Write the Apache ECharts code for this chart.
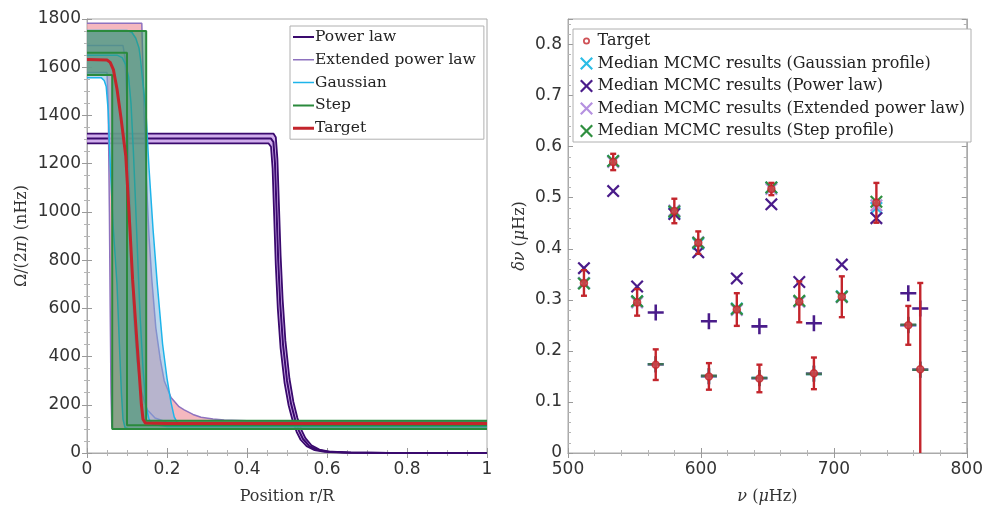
<!DOCTYPE html>
<html><head><meta charset="utf-8">
<script src="https://cdn.jsdelivr.net/npm/echarts@6/dist/echarts.min.js"></script>
<style>html,body{margin:0;padding:0;background:#fff}#c{width:986px;height:510px}</style>
</head><body><div id="c"></div>
<script>
// ===== Left panel: rotation profiles, points are [r/R, Omega/(2pi) in nHz] =====
const plMedian = [[0,1304],[0.46,1304],[0.466,1290],[0.47,1200],[0.474,1000],[0.478,800],[0.483,620],[0.49,450],[0.5,300],[0.51,205],[0.52,140],[0.53,92],[0.54,58],[0.555,30],[0.575,13],[0.6,6],[0.65,2],[0.75,0.5],[1,0]];
const plUpper  = [[0,1325],[0.466,1325],[0.472,1310],[0.476,1220],[0.48,1020],[0.484,820],[0.489,640],[0.496,465],[0.506,310],[0.516,212],[0.526,145],[0.536,96],[0.546,62],[0.561,32],[0.581,14],[0.606,6],[0.66,2],[0.76,0.5],[1,0]];
const plLower  = [[0,1284],[0.454,1284],[0.46,1270],[0.464,1180],[0.468,980],[0.472,780],[0.477,600],[0.484,435],[0.494,290],[0.504,198],[0.514,135],[0.524,88],[0.534,55],[0.549,28],[0.569,12],[0.594,5],[0.64,1.5],[0.74,0.5],[1,0]];

const extUpper  = [[0,1782],[0.137,1782],[0.139,1650],[0.143,1400],[0.148,1150],[0.155,900],[0.162,720],[0.172,520],[0.183,390],[0.193,300],[0.21,230],[0.23,192],[0.243,179],[0.265,160],[0.285,148],[0.315,141],[0.343,137],[0.4,134],[0.5,133],[1,133]];
const extMedian = [[0,1690],[0.09,1690],[0.095,1640],[0.1,1450],[0.105,1150],[0.11,850],[0.117,560],[0.125,380],[0.135,260],[0.15,180],[0.17,145],[0.2,128],[0.25,120],[0.35,117],[1,116]];
const extLower  = [[0,1578],[0.05,1578],[0.053,1450],[0.056,1000],[0.058,600],[0.06,250],[0.062,110],[0.065,100],[1,100]];

const gauUpper  = [[0,1752],[0.1,1752],[0.112,1745],[0.122,1720],[0.13,1680],[0.134,1630],[0.14,1530],[0.147,1426],[0.155,1182],[0.165,930],[0.176,695],[0.189,451],[0.2,310],[0.21,210],[0.218,150],[0.225,128],[0.24,122],[0.3,120],[1,120]];
const gauMedian = [[0,1650],[0.075,1650],[0.088,1640],[0.097,1610],[0.104,1560],[0.11,1450],[0.116,1250],[0.121,1050],[0.127,800],[0.133,560],[0.14,350],[0.147,200],[0.155,140],[0.165,118],[0.2,110],[1,110]];
const gauLower  = [[0,1556],[0.036,1556],[0.043,1545],[0.048,1520],[0.053,1420],[0.058,1200],[0.065,950],[0.075,700],[0.081,450],[0.086,250],[0.09,140],[0.095,105],[0.105,100],[1,100]];

const stepUpper  = [[0,1750],[0.148,1750],[0.148,134],[1,134]];
const stepMedian = [[0,1660],[0.1,1660],[0.1,115],[1,115]];
const stepLower  = [[0,1568],[0.063,1568],[0.063,100],[1,100]];

const targetProfile = [[0,1632],[0.05,1630],[0.058,1620],[0.066,1590],[0.075,1510],[0.085,1390],[0.097,1230],[0.105,1000],[0.114,720],[0.124,480],[0.131,320],[0.136,200],[0.14,140],[0.146,124],[0.2,122],[1,122]];

const leftLegendNames = ['Power law','Extended power law','Gaussian','Step','Target'];
const leftXTicks = [0,0.2,0.4,0.6,0.8,1];
const leftYTicks = [0,200,400,600,800,1000,1200,1400,1600,1800];

// ===== Right panel: splittings delta nu (muHz) vs nu (muHz) =====
// set A (x markers)
const nuA      = [512, 534, 552, 580, 598, 627, 653, 674, 706, 732];
const targetA  = [0.333,0.570,0.295,0.474,0.412,0.281,0.517,0.296,0.306,0.490];
const errA     = [0.025,0.016,0.026,0.024,0.022,0.032,0.012,0.040,0.040,0.039];
const gaussA   = [0.333,0.572,0.297,0.470,0.410,0.283,0.520,0.297,0.307,0.480];
const plA      = [0.362,0.513,0.326,0.468,0.393,0.342,0.487,0.335,0.369,0.460];
const extA     = [0.333,0.570,0.295,0.475,0.413,0.280,0.517,0.296,0.305,0.485];
const stepA    = [0.332,0.572,0.297,0.473,0.412,0.282,0.520,0.298,0.306,0.492];
// set B (+ markers)
const nuB      = [566, 606, 644, 685, 756, 765];
const targetB  = [0.173,0.150,0.146,0.156,0.250,0.164];
const errB     = [0.030,0.026,0.027,0.031,0.038,0.169];
const gaussB   = [0.174,0.150,0.147,0.155,0.250,0.163];
const plB      = [0.275,0.258,0.248,0.254,0.313,0.283];
const extB     = [0.173,0.150,0.146,0.156,0.250,0.164];
const stepB    = [0.174,0.151,0.147,0.155,0.251,0.163];

const rightLegendNames = ['Target','Median MCMC results (Gaussian profile)','Median MCMC results (Power law)','Median MCMC results (Extended power law)','Median MCMC results (Step profile)'];
const rightXTicks = [500,600,700,800];
const rightYTicks = [0,0.1,0.2,0.3,0.4,0.5,0.6,0.7,0.8];

// ===== styling =====
const C = {
  pl:'#3a0a6e', plFill:'#c9a0ea',
  ext:'#8e72bf', extFill:'#f2a0aa',
  gau:'#1db4ea', gauFill:'#7ab0dc',
  step:'#2a8a3c', stepFill:'#2f8f5f',
  tgt:'#c3252c',
  mGau:'#2bbde6', mPl:'#4a1c8a', mExt:'#b591e0', mStep:'#2f8f3f'
};
const SERIF = 'DejaVu Serif';
const SANS = 'DejaVu Sans';
const X_SYM = 'path://M0,1.2L1.2,0L5,3.8L8.8,0L10,1.2L6.2,5L10,8.8L8.8,10L5,6.2L1.2,10L0,8.8L3.8,5Z';
const P_SYM = 'path://M4.2,0H5.8V4.2H10V5.8H5.8V10H4.2V5.8H0V4.2H4.2Z';
// legend line icon of a given thickness (box 21 x 14, tiny corner dots fix the box)
const lineIcon = (t) => 'path://M0,0H0.01V0.01H0Z M20.99,13.99H21V14H20.99Z M0,' + (7 - t/2) + 'H21V' + (7 + t/2) + 'H0Z';
const RING_ICON = 'path://M0,0H0.01V0.01H0Z M9.99,9.99H10V10H9.99Z M7.7,5A2.7,2.7 0 1 1 2.3,5A2.7,2.7 0 1 1 7.7,5Z M6.4,5A1.4,1.4 0 1 0 3.6,5A1.4,1.4 0 1 0 6.4,5Z';

const zip = (xs, ys) => xs.map((x, i) => [x, ys[i]]);

function band(upper, lower, fill, opacity, z) {
  return {
    type:'custom', xAxisIndex:0, yAxisIndex:0, silent:true, clip:true, z:z,
    data:[[0.5, 900]],
    renderItem:(params, api) => {
      const pts = upper.concat(lower.slice().reverse()).map(p => api.coord(p));
      return {type:'polygon', shape:{points:pts}, style:{fill:fill, opacity:opacity}};
    }
  };
}
function prof(name, data, color, width, z) {
  return {type:'line', name:name, xAxisIndex:0, yAxisIndex:0, data:data, symbol:'none',
    lineStyle:{color:color, width:width}, itemStyle:{color:color}, z:z, silent:true, animation:false};
}
function marks(name, xs, ys, sym, size, color, z) {
  return {type:'scatter', name:name, xAxisIndex:2, yAxisIndex:2, data:zip(xs, ys), symbol:sym, symbolSize:size,
    itemStyle:{color:color, opacity:1}, z:z, silent:true, animation:false};
}
function errorBars(xs, ys, es, z) {
  return {
    type:'custom', xAxisIndex:2, yAxisIndex:2, clip:true, silent:true, z:z,
    data: xs.map((x, i) => [x, ys[i], es[i]]),
    renderItem:(params, api) => {
      const x = api.value(0), y = api.value(1), e = api.value(2);
      const t = api.coord([x, y + e]), b = api.coord([x, y - e]);
      const cap = 3, st = {stroke:C.tgt, lineWidth:2.4};
      return {type:'group', children:[
        {type:'line', shape:{x1:t[0], y1:t[1], x2:b[0], y2:b[1]}, style:st},
        {type:'line', shape:{x1:t[0]-cap, y1:t[1], x2:t[0]+cap, y2:t[1]}, style:st},
        {type:'line', shape:{x1:b[0]-cap, y1:b[1], x2:b[0]+cap, y2:b[1]}, style:st}
      ]};
    }
  };
}

const axisCommon = {
  axisLine:{show:true, lineStyle:{color:'#aaaaaa', width:1}},
  axisTick:{show:true, inside:true, length:5, lineStyle:{color:'#9a9a9a'}},
  minorTick:{show:true, splitNumber:4, length:3, lineStyle:{color:'#b5b5b5'}},
  splitLine:{show:false}, minorSplitLine:{show:false}
};
const labelStyle = {fontFamily:SANS, fontSize:17, color:'#333'};
function ax(extra) { return Object.assign({}, JSON.parse(JSON.stringify(axisCommon)), extra); }
const italicRich = {i:{fontFamily:SERIF, fontSize:16, fontStyle:'italic', color:'#333'}};

const option = {
  backgroundColor:'#ffffff',
  animation:false,
  grid:[
    {left:87, top:19, width:400, height:442, show:true, borderColor:'#aaaaaa', borderWidth:1, backgroundColor:'transparent'},
    {left:568, top:19, width:405, height:442, show:true, borderColor:'#aaaaaa', borderWidth:1, backgroundColor:'transparent'}
  ],
  xAxis:[
    ax({type:'value', gridIndex:0, min:leftXTicks[0], max:leftXTicks[leftXTicks.length-1], interval:leftXTicks[1]-leftXTicks[0],
      axisLabel:Object.assign({margin:8, formatter:(v) => String(v)}, labelStyle),
      name:'Position r/R', nameLocation:'middle', nameGap:36, nameTextStyle:{fontFamily:SERIF, fontSize:16, color:'#333'}}),
    ax({type:'value', gridIndex:0, position:'top', min:0, max:1, interval:0.2, axisLabel:{show:false}}),
    ax({type:'value', gridIndex:1, min:rightXTicks[0], max:rightXTicks[rightXTicks.length-1], interval:rightXTicks[1]-rightXTicks[0],
      minorTick:{show:true, splitNumber:5, length:3, lineStyle:{color:'#b5b5b5'}},
      axisLabel:Object.assign({margin:8, formatter:(v) => String(v)}, labelStyle),
      name:'{i|ν} ({i|μ}Hz)', nameLocation:'middle', nameGap:36,
      nameTextStyle:{fontFamily:SERIF, fontSize:16, color:'#333', rich:italicRich}}),
    ax({type:'value', gridIndex:1, position:'top', min:500, max:800, interval:100,
      minorTick:{show:true, splitNumber:5, length:3, lineStyle:{color:'#b5b5b5'}}, axisLabel:{show:false}})
  ],
  yAxis:[
    ax({type:'value', gridIndex:0, min:leftYTicks[0], max:leftYTicks[leftYTicks.length-1], interval:leftYTicks[1]-leftYTicks[0],
      axisLabel:Object.assign({margin:6, formatter:(v) => String(v)}, labelStyle),
      name:'Ω/(2{i|π}) (nHz)', nameLocation:'middle', nameGap:57,
      nameTextStyle:{fontFamily:SERIF, fontSize:16, color:'#333', rich:italicRich}}),
    ax({type:'value', gridIndex:0, position:'right', min:0, max:1800, interval:200, axisLabel:{show:false}}),
    ax({type:'value', gridIndex:1, min:rightYTicks[0], max:0.85, interval:rightYTicks[1]-rightYTicks[0],
      minorTick:{show:true, splitNumber:5, length:3, lineStyle:{color:'#b5b5b5'}},
      axisLabel:Object.assign({margin:6, showMaxLabel:false, formatter:(v) => String(v)}, labelStyle),
      name:'{i|δν} ({i|μ}Hz)', nameLocation:'middle', nameGap:40,
      nameTextStyle:{fontFamily:SERIF, fontSize:16, color:'#333', rich:italicRich}}),
    ax({type:'value', gridIndex:1, position:'right', min:0, max:0.85, interval:0.1,
      minorTick:{show:true, splitNumber:5, length:3, lineStyle:{color:'#b5b5b5'}}, axisLabel:{show:false}})
  ],
  legend:[
    {data:[
        {name:leftLegendNames[0], icon:lineIcon(2)},
        {name:leftLegendNames[1], icon:lineIcon(1.5)},
        {name:leftLegendNames[2], icon:lineIcon(1.5)},
        {name:leftLegendNames[3], icon:lineIcon(2)},
        {name:leftLegendNames[4], icon:lineIcon(3)}
      ],
      orient:'vertical', left:290, top:26, itemWidth:21, itemHeight:14, itemGap:6.8,
      padding:[3,8,3,3], borderColor:'#b0b0b0', borderWidth:1, backgroundColor:'#fff', selectedMode:false,
      textStyle:{fontFamily:SERIF, fontSize:15.5, lineHeight:14, color:'#222', padding:[0,0,0,-4]}, z:20},
    {data:[
        {name:'TargetR', icon:RING_ICON, itemStyle:{color:C.tgt, borderWidth:0}},
        {name:rightLegendNames[1]}, {name:rightLegendNames[2]}, {name:rightLegendNames[3]}, {name:rightLegendNames[4]}
      ],
      formatter:(n) => n === 'TargetR' ? rightLegendNames[0] : n,
      orient:'vertical', left:573, top:29, itemWidth:14, itemHeight:13, itemGap:6.5,
      padding:[4,6,3,7], borderColor:'#b0b0b0', borderWidth:1, backgroundColor:'#fff', selectedMode:false,
      textStyle:{fontFamily:SERIF, fontSize:16, lineHeight:13, color:'#222', padding:[0,0,0,-1]}, z:20}
  ],
  series:[
    // left panel bands
    band(plUpper, plLower, C.plFill, 0.85, 1),
    prof('Power law', plMedian, C.pl, 2, 3),
    prof('pl_u', plUpper, C.pl, 1.8, 3),
    prof('pl_l', plLower, C.pl, 1.8, 3),
    band(extUpper, extLower, C.extFill, 0.75, 4),
    prof('Extended power law', extMedian, C.ext, 1.5, 5),
    prof('ext_u', extUpper, C.ext, 1.5, 5),
    prof('ext_l', extLower, C.ext, 1.5, 5),
    band(gauUpper, gauLower, C.gauFill, 0.5, 6),
    prof('Gaussian', gauMedian, C.gau, 1.5, 7),
    prof('gau_u', gauUpper, C.gau, 1.5, 7),
    prof('gau_l', gauLower, C.gau, 1.5, 7),
    band(stepUpper, stepLower, C.stepFill, 0.55, 8),
    prof('Step', stepMedian, C.step, 2, 9),
    prof('step_u', stepUpper, C.step, 2, 9),
    prof('step_l', stepLower, C.step, 2, 9),
    prof('Target', targetProfile, C.tgt, 3, 10),
    // right panel markers
    marks(rightLegendNames[1], nuA, gaussA, X_SYM, 13, C.mGau, 3),
    marks(rightLegendNames[2], nuA, plA, X_SYM, 13, C.mPl, 3),
    marks(rightLegendNames[3], nuA, extA, X_SYM, 13, C.mExt, 4),
    marks(rightLegendNames[4], nuA, stepA, X_SYM, 13, C.mStep, 5),
    marks(rightLegendNames[1], nuB, gaussB, P_SYM, 16, C.mGau, 3),
    marks(rightLegendNames[2], nuB, plB, P_SYM, 16, C.mPl, 3),
    marks(rightLegendNames[3], nuB, extB, P_SYM, 16, C.mExt, 4),
    marks(rightLegendNames[4], nuB, stepB, P_SYM, 16, '#3f6f55', 5),
    errorBars(nuA, targetA, errA, 6),
    errorBars(nuB, targetB, errB, 6),
    {type:'scatter', name:'TargetR', xAxisIndex:2, yAxisIndex:2, data:zip(nuA, targetA).concat(zip(nuB, targetB)),
      symbol:'circle', symbolSize:7, itemStyle:{color:'#d0474d', borderColor:C.tgt, borderWidth:1.5}, z:7, silent:true}
  ]
};
const chart = echarts.init(document.getElementById('c'), null, {renderer:'canvas'});
chart.setOption(option);
</script></body></html>
